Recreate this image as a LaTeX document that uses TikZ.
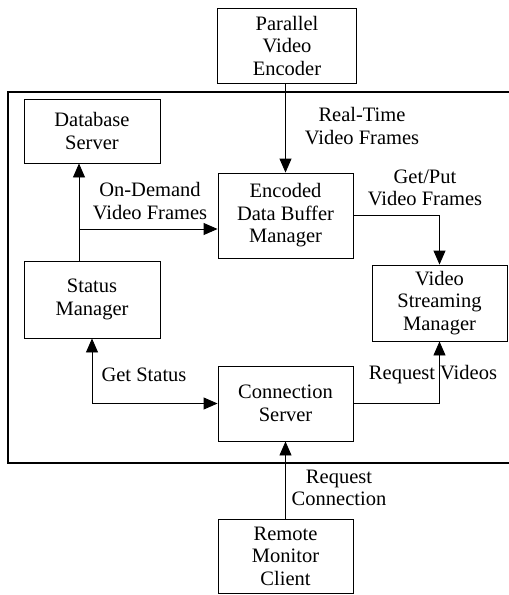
\documentclass[tikz,border=0pt]{standalone}
\usepackage{fontspec}
\setmainfont{Liberation Serif}
\usetikzlibrary{arrows.meta}

\begin{document}
\begin{tikzpicture}[
    x=1pt, y=-1pt,
    >={Triangle[length=14pt,width=12pt]},
    box/.style={draw=black, line width=.9pt, inner sep=0pt, align=center,
      minimum width=136pt, font=\fontsize{20.5}{22.5}\selectfont},
    lbl/.style={align=center, inner sep=0pt, font=\fontsize{20.5}{22.5}\selectfont},
    ptr/.style={->, line width=.9pt, draw=black},
  ]
    \useasboundingbox (0,0) rectangle (509,595);
    \draw[line width=1.1pt] (509,92) -- (8,92) -- (8,463) -- (509,463);

    \node[box, minimum width=139pt, minimum height=75pt] (pve) at (287,45.5)
      {Parallel\\Video\\Encoder};
    \node[box, minimum height=64pt] (db) at (92,131) {Database\\Server};
    \node[box, minimum width=135pt, minimum height=85pt] (buf) at (285.5,215.5)
      {Encoded\\Data Buffer\\Manager};
    \node[box, minimum height=77pt] (sm) at (92,299.5) {Status\\Manager};
    \node[box, minimum width=135pt, minimum height=76pt] (vsm) at (439.5,303)
      {Video\\Streaming\\Manager};
    \node[box, minimum width=135pt, minimum height=75pt] (cs) at (285.5,403.5)
      {Connection\\Server};
    \node[box, minimum width=135pt, minimum height=74pt] (rmc) at (285.5,556)
      {Remote\\Monitor\\Client};

    \node[lbl] at (362,126) {Real-Time\\Video Frames};
    \node[lbl] at (425,188) {Get/Put\\Video Frames};
    \node[lbl] at (150,201) {On-Demand\\Video Frames};
    \node[lbl] at (144,375) {Get Status};
    \node[lbl] at (339,488) {Request\\Connection};

    \coordinate (jn) at (79,229);
    \draw[ptr] (pve.south -| buf.north) -- (buf.north);
    \draw[ptr] (jn |- sm.north) -- (jn |- db.south);
    \draw[ptr] (jn) -- (jn -| buf.west);
    \draw[ptr] (buf.east) -| (vsm.north);
    \draw[ptr, <->] (sm.south) |- (cs.west);
    \draw[ptr] (cs.east) -| (vsm.south);
    \draw[ptr] (rmc.north) -- (cs.south);

    \node[lbl] at (433,375) {Request Videos};
\end{tikzpicture}
\end{document}
